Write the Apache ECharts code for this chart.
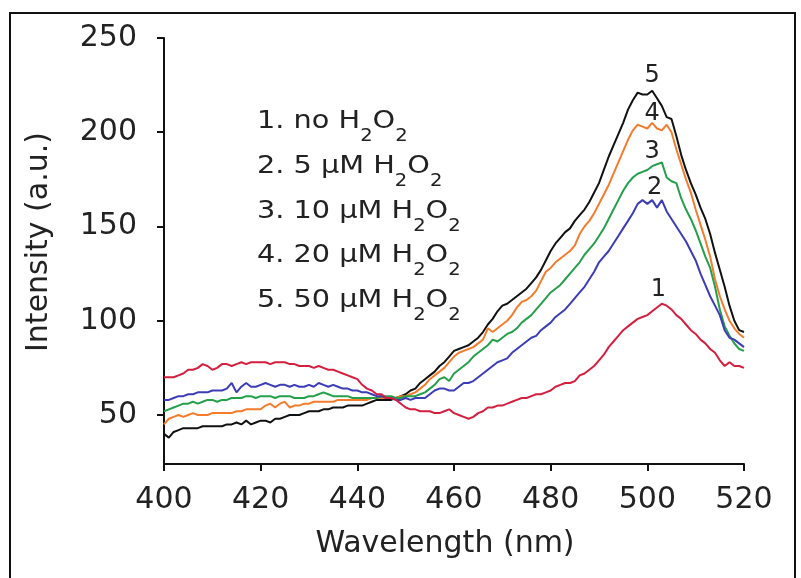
<!DOCTYPE html>
<html>
<head>
<meta charset="utf-8">
<script src="https://cdn.jsdelivr.net/npm/echarts@6/dist/echarts.min.js"></script>
<style>
html,body{margin:0;padding:0;background:#fff;}
#chart{width:801px;height:578px;}
</style>
</head>
<body>
<div id="chart"></div>
<script>
// wavelengths 400..520 nm, 1 nm step
const wavelengths = [];
for (let w = 400; w <= 520; w++) wavelengths.push(w);

const noH2O2 = [70,70,70,71,72,74,74,75,77,76,74,75,77,77,76,77,78,77,78,78,
78,78,77,78,78,78,77,77,76,76,76,75,76,75,74,74,73,72,71,70,
69,66,64,63,61,61,59,59,58,56,54,53,53,52,52,52,51,51,52,53,
51,50,49,48,49,51,52,54,54,55,55,56,57,58,59,59,60,61,61,62,
63,65,66,67,67,68,71,72,74,76,79,82,86,89,92,95,97,99,101,102,
103,105,107,109,108,106,103,101,98,95,93,90,88,85,83,79,76,78,76,76,75];

const uM5 = [58,58,59,60,60,61,61,62,62,62,63,63,63,64,67,62,65,67,65,65,
66,67,66,65,66,66,65,66,65,65,66,65,67,66,65,66,65,64,64,63,
63,62,62,61,60,60,59,59,58,58,59,58,59,59,59,61,63,64,64,63,
63,65,67,67,68,70,72,74,76,78,79,80,83,85,87,89,91,92,95,97,
99,102,104,106,109,112,115,118,122,126,131,134,137,141,145,149,153,157,162,164,
162,164,160,164,158,154,150,146,142,137,132,125,119,113,108,103,95,91,90,88,86];

const uM10 = [52,53,54,55,56,56,57,56,57,58,58,57,58,58,59,59,59,60,60,59,
60,60,60,59,60,60,60,59,59,59,60,60,61,62,61,60,60,60,60,59,
59,59,59,59,59,60,60,60,59,59,60,60,60,61,62,64,66,69,70,68,
72,74,76,78,81,83,85,87,90,89,91,93,94,96,99,101,103,106,109,112,
115,117,119,122,125,128,131,135,138,141,145,149,154,159,164,169,173,176,178,179,
180,182,183,184,176,174,173,165,159,154,148,141,134,128,118,106,97,92,88,85,84];

const uM20 = [45,48,49,50,49,50,51,50,50,50,51,51,51,51,51,52,52,53,53,53,
53,55,56,54,56,57,54,55,55,56,56,57,57,57,57,57,58,58,58,58,
58,58,58,59,59,59,59,59,59,60,60,61,62,64,66,69,71,73,75,78,
81,83,84,85,86,88,90,96,94,96,98,100,103,107,110,111,113,116,121,126,
128,131,133,135,137,140,146,150,153,157,162,167,172,178,184,190,196,201,204,203,
202,205,202,201,204,200,191,183,175,168,159,151,143,134,122,113,106,100,96,93,91];

const uM50 = [40,38,41,42,43,43,43,43,44,44,44,44,44,45,45,46,45,47,45,46,
47,47,46,48,48,49,50,50,50,51,52,52,52,53,53,54,54,54,55,55,
55,55,56,57,58,58,58,58,59,60,61,63,64,67,69,71,73,76,78,81,
84,85,86,87,89,91,94,98,101,105,108,109,111,113,115,117,120,123,127,132,
137,141,144,147,149,153,156,159,163,168,173,180,187,193,199,205,212,217,221,220,
220,222,218,214,208,207,198,188,180,173,167,160,154,146,136,127,118,108,100,95,94];

const seriesNames = ['1', '2', '3', '4', '5'];
const seriesData = [noH2O2, uM5, uM10, uM20, uM50];
const seriesColors = ['#d41f3f', '#3c3cb6', '#24a04a', '#f47c2c', '#111111'];
// curve-number annotations: [wavelength, intensity]
const curveLabelPos = [[502.3, 116.6], [501.5, 170.8], [501, 189.6], [501, 209.8], [501, 229.9]];

const xTicks = [400, 420, 440, 460, 480, 500, 520];
const yTicks = [50, 100, 150, 200, 250];

const legendLines = [
  ['1. no H', 'O'],
  ['2. 5 \u00b5M H', 'O'],
  ['3. 10 \u00b5M H', 'O'],
  ['4. 20 \u00b5M H', 'O'],
  ['5. 50 \u00b5M H', 'O']
];

const FONT = 'DejaVu Sans';
const chart = echarts.init(document.getElementById('chart'), null, {renderer: 'canvas'});

const series = seriesData.map((vals, i) => ({
  name: seriesNames[i],
  type: 'line',
  data: vals.map((v, k) => [wavelengths[k], v]),
  showSymbol: false,
  symbol: 'none',
  lineStyle: {color: seriesColors[i], width: 2},
  itemStyle: {color: seriesColors[i]},
  z: 10 - i,
  markPoint: {
    silent: true,
    symbol: 'circle',
    symbolSize: 1,
    itemStyle: {color: 'rgba(0,0,0,0)'},
    label: {show: true, position: 'inside', formatter: seriesNames[i], color: '#222', fontFamily: FONT, fontSize: 24},
    data: [{coord: curveLabelPos[i]}]
  }
}));

const graphics = [{
  type: 'rect',
  shape: {x: 10, y: 13, width: 785, height: 620},
  style: {fill: 'none', stroke: '#111', lineWidth: 2},
  silent: true
}];
legendLines.forEach((parts, i) => {
  graphics.push({
    type: 'text',
    x: 257,
    y: 109 + i * 44.8,
    scaleX: 1.15,
    style: {
      text: '{m|' + parts[0] + '}{s|2}{m|' + parts[1] + '}{s|2}',
      align: 'left',
      verticalAlign: 'top',
      rich: {
        m: {fontFamily: FONT, fontSize: 25, lineHeight: 28, verticalAlign: 'top', fill: '#222'},
        s: {fontFamily: FONT, fontSize: 17, lineHeight: 17, padding: [19, 0, 0, 0], verticalAlign: 'top', fill: '#222'}
      }
    },
    silent: true
  });
});

chart.setOption({
  animation: false,
  backgroundColor: '#fff',
  grid: {left: 164, right: 57, top: 38, bottom: 114, containLabel: false, outerBoundsMode: 'none'},
  xAxis: {
    type: 'value',
    min: 400, max: 520, interval: 20,
    name: 'Wavelength (nm)',
    nameLocation: 'middle',
    nameGap: 65,
    nameTextStyle: {fontFamily: FONT, fontSize: 30, color: '#222', padding: [0, 18, 0, 0]},
    axisLine: {show: true, lineStyle: {color: '#111', width: 2}},
    axisTick: {show: true, inside: false, length: 7, lineStyle: {color: '#111', width: 2}},
    axisLabel: {fontFamily: FONT, fontSize: 30, color: '#222', margin: 21,
      customValues: xTicks},
    splitLine: {show: false}
  },
  yAxis: {
    type: 'value',
    min: 24, max: 250,
    name: 'Intensity (a.u.)',
    nameLocation: 'middle',
    nameRotate: 90,
    nameGap: 110,
    nameTextStyle: {fontFamily: FONT, fontSize: 30, color: '#222', padding: [0, 0, 0, 18]},
    axisLine: {show: true, lineStyle: {color: '#111', width: 2}},
    axisTick: {show: true, inside: false, length: 7, lineStyle: {color: '#111', width: 2}, customValues: yTicks},
    axisLabel: {fontFamily: FONT, fontSize: 30, color: '#222', margin: 27, customValues: yTicks},
    splitLine: {show: false}
  },
  series: series,
  graphic: graphics
});
</script>
</body>
</html>
